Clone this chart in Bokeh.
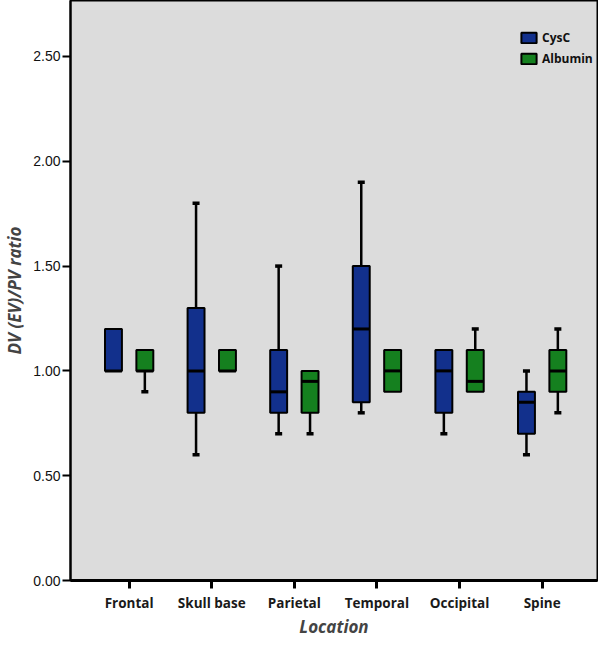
from bokeh.plotting import figure
from bokeh.models import FixedTicker, Legend, LegendItem, ColumnDataSource, NumeralTickFormatter
from bokeh.embed import file_html
from bokeh.resources import INLINE

# ---- data ----
locations = ["Frontal", "Skull base", "Parietal", "Temporal", "Occipital", "Spine"]
cysc_min = [1.0, 0.6, 0.7, 0.8, 0.7, 0.6]
cysc_q1 = [1.0, 0.8, 0.8, 0.85, 0.8, 0.7]
cysc_med = [1.0, 1.0, 0.9, 1.2, 1.0, 0.85]
cysc_q3 = [1.2, 1.3, 1.1, 1.5, 1.1, 0.9]
cysc_max = [1.2, 1.8, 1.5, 1.9, 1.1, 1.0]
alb_min = [0.9, 1.0, 0.7, 0.9, 0.9, 0.8]
alb_q1 = [1.0, 1.0, 0.8, 0.9, 0.9, 0.9]
alb_med = [1.0, 1.0, 0.95, 1.0, 0.95, 1.0]
alb_q3 = [1.1, 1.1, 1.0, 1.1, 1.1, 1.1]
alb_max = [1.1, 1.1, 1.0, 1.1, 1.2, 1.2]
y_ticks = [0.0, 0.5, 1.0, 1.5, 2.0, 2.5]

CYSC_COLOR = "#12308c"
ALB_COLOR = "#15801f"
BOX_W = 0.205
OFFSET = 0.19
CAP_W = 0.085

X_START, X_END = 0.29, 6.67
Y_END = 2.767

p = figure(width=598, height=640, x_range=(X_START, X_END), y_range=(0, Y_END),
           output_backend="svg", toolbar_location=None,
           min_border_left=62, min_border_right=1, min_border_top=0, min_border_bottom=0)
p.background_fill_color = "#dcdcdc"
p.border_fill_color = "white"
p.outline_line_color = "black"
p.outline_line_width = 2
p.xgrid.visible = False
p.ygrid.visible = False


def draw_series(mins, q1s, meds, q3s, maxs, off, color):
    xs = [i + 1 + off for i in range(len(locations))]
    wx, wy0, wy1 = [], [], []
    cx0, cx1, cy = [], [], []
    for x, lo, a, b, hi in zip(xs, mins, q1s, q3s, maxs):
        if hi > b:
            wx.append(x); wy0.append(b); wy1.append(hi)
            cx0.append(x - CAP_W / 2); cx1.append(x + CAP_W / 2); cy.append(hi)
        if lo < a:
            wx.append(x); wy0.append(lo); wy1.append(a)
            cx0.append(x - CAP_W / 2); cx1.append(x + CAP_W / 2); cy.append(lo)
    p.segment(x0=wx, y0=wy0, x1=wx, y1=wy1, line_color="black", line_width=2.5)
    p.segment(x0=cx0, y0=cy, x1=cx1, y1=cy, line_color="black", line_width=3.5)
    src = ColumnDataSource(dict(x=xs, top=q3s, bottom=q1s))
    r = p.vbar(x="x", width=BOX_W, top="top", bottom="bottom", source=src,
               fill_color=color, line_color="black", line_width=2)
    p.segment(x0=[x - BOX_W / 2 for x in xs], y0=meds, x1=[x + BOX_W / 2 for x in xs], y1=meds,
              line_color="black", line_width=3)
    return r


r_cysc = draw_series(cysc_min, cysc_q1, cysc_med, cysc_q3, cysc_max, -OFFSET, CYSC_COLOR)
r_alb = draw_series(alb_min, alb_q1, alb_med, alb_q3, alb_max, OFFSET, ALB_COLOR)

# x axis
p.xaxis.ticker = FixedTicker(ticks=list(range(1, len(locations) + 1)))
p.xaxis.major_label_overrides = {i + 1: loc for i, loc in enumerate(locations)}
p.xaxis.minor_tick_line_color = None
p.xaxis.major_tick_in = 0
p.xaxis.major_tick_out = 8
p.xaxis.major_tick_line_width = 3
p.xaxis.axis_line_width = 3
p.xaxis.major_label_text_font = "Open Sans"
p.xaxis.major_label_text_font_size = "13.5px"
p.xaxis.major_label_text_font_style = "bold"
p.xaxis.major_label_text_color = "#1a1a1a"
p.xaxis.major_label_standoff = 5
p.xaxis.axis_label = "Location"
p.xaxis.axis_label_text_font = "Open Sans"
p.xaxis.axis_label_text_font_size = "17px"
p.xaxis.axis_label_text_font_style = "bold italic"
p.xaxis.axis_label_standoff = 0

# y axis
p.yaxis.ticker = FixedTicker(ticks=y_ticks)
p.yaxis.formatter = NumeralTickFormatter(format="0.00")
p.yaxis.minor_tick_line_color = None
p.yaxis.major_tick_in = 0
p.yaxis.major_tick_out = 8
p.yaxis.major_tick_line_width = 2
p.yaxis.axis_line_width = 2
p.yaxis.major_label_text_font = "'Liberation Sans Narrow', 'Liberation Sans', sans-serif"
p.yaxis.major_label_text_font_size = "14px"
p.yaxis.major_label_text_color = "#111111"
p.yaxis.major_label_standoff = 2
p.yaxis.axis_label = "DV (EV)/PV ratio"
p.yaxis.axis_label_text_font = "Open Sans"
p.yaxis.axis_label_text_font_size = "17px"
p.yaxis.axis_label_text_font_style = "bold italic"
p.yaxis.axis_label_standoff = 4

legend = Legend(items=[LegendItem(label="CysC", renderers=[r_cysc]),
                       LegendItem(label="Albumin", renderers=[r_alb])],
                location=(449, 513), orientation="vertical")
legend.border_line_color = None
legend.background_fill_alpha = 0
legend.glyph_width = 19
legend.glyph_height = 13
legend.label_height = 13
legend.spacing = 4
legend.padding = 0
legend.margin = 0
legend.label_standoff = 4
legend.label_text_font = "Open Sans"
legend.label_text_font_size = "12px"
legend.label_text_font_style = "bold"
legend.label_text_color = "#111111"
p.add_layout(legend)

open("out.html", "w").write(file_html(p, INLINE))
